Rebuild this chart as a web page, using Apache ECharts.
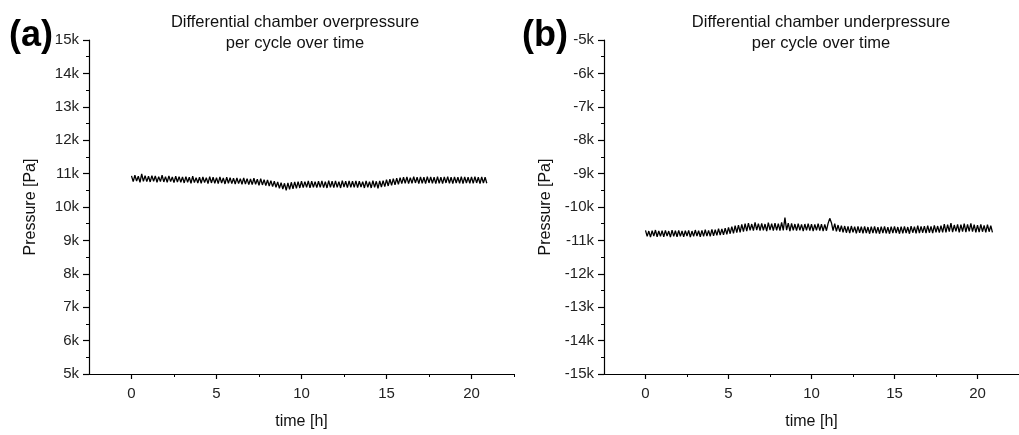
<!DOCTYPE html>
<html>
<head>
<meta charset="utf-8">
<script src="https://cdn.jsdelivr.net/npm/echarts@6/dist/echarts.min.js"></script>
<style>
html,body{margin:0;padding:0;background:#fff;}
#chart{width:1019px;height:435px;}
</style>
</head>
<body>
<div id="chart"></div>
<script>
// time [h]
var timeHours = [
0.0,0.1,0.2,0.3,0.4,0.5,0.6,0.7,0.8,0.9,
1.0,1.1,1.2,1.3,1.4,1.5,1.6,1.7,1.8,1.9,
2.0,2.1,2.2,2.3,2.4,2.5,2.6,2.7,2.8,2.9,
3.0,3.1,3.2,3.3,3.4,3.5,3.6,3.7,3.8,3.9,
4.0,4.1,4.2,4.3,4.4,4.5,4.6,4.7,4.8,4.9,
5.0,5.1,5.2,5.3,5.4,5.5,5.6,5.7,5.8,5.9,
6.0,6.1,6.2,6.3,6.4,6.5,6.6,6.7,6.8,6.9,
7.0,7.1,7.2,7.3,7.4,7.5,7.6,7.7,7.8,7.9,
8.0,8.1,8.2,8.3,8.4,8.5,8.6,8.7,8.8,8.9,
9.0,9.1,9.2,9.3,9.4,9.5,9.6,9.7,9.8,9.9,
10.0,10.1,10.2,10.3,10.4,10.5,10.6,10.7,10.8,10.9,
11.0,11.1,11.2,11.3,11.4,11.5,11.6,11.7,11.8,11.9,
12.0,12.1,12.2,12.3,12.4,12.5,12.6,12.7,12.8,12.9,
13.0,13.1,13.2,13.3,13.4,13.5,13.6,13.7,13.8,13.9,
14.0,14.1,14.2,14.3,14.4,14.5,14.6,14.7,14.8,14.9,
15.0,15.1,15.2,15.3,15.4,15.5,15.6,15.7,15.8,15.9,
16.0,16.1,16.2,16.3,16.4,16.5,16.6,16.7,16.8,16.9,
17.0,17.1,17.2,17.3,17.4,17.5,17.6,17.7,17.8,17.9,
18.0,18.1,18.2,18.3,18.4,18.5,18.6,18.7,18.8,18.9,
19.0,19.1,19.2,19.3,19.4,19.5,19.6,19.7,19.8,19.9,
20.0,20.1,20.2,20.3,20.4,20.5,20.6,20.7,20.8,20.9
];

// (a) overpressure [Pa]
var overpressure = [
10930,10760,10950,10780,10920,10740,10990,10770,10940,10760,
10920,10750,10940,10770,10930,10740,10910,10760,10950,10750,
10910,10740,10930,10760,10900,10730,10920,10750,10910,10740,
10900,10720,10910,10740,10890,10710,10920,10730,10880,10720,
10890,10710,10900,10730,10880,10700,10910,10720,10890,10710,
10880,10700,10900,10720,10870,10690,10890,10710,10880,10700,
10860,10690,10870,10700,10850,10680,10870,10690,10850,10670,
10840,10670,10860,10680,10830,10650,10850,10660,10820,10640,
10810,10630,10790,10610,10770,10590,10750,10560,10730,10540,
10710,10500,10720,10530,10740,10540,10750,10560,10760,10570,
10770,10580,10760,10590,10780,10570,10770,10590,10760,10580,
10770,10590,10780,10580,10760,10570,10790,10590,10770,10580,
10780,10590,10760,10570,10790,10600,10770,10580,10780,10590,
10770,10590,10780,10580,10770,10600,10760,10570,10780,10590,
10760,10570,10790,10590,10770,10560,10780,10600,10790,10610,
10820,10630,10830,10650,10850,10660,10860,10680,10880,10700,
10890,10710,10900,10700,10880,10710,10910,10720,10890,10700,
10900,10710,10890,10700,10910,10720,10900,10710,10890,10700,
10910,10710,10890,10700,10900,10720,10910,10710,10890,10700,
10900,10720,10890,10710,10910,10700,10900,10720,10890,10710,
10900,10710,10910,10720,10890,10700,10900,10720,10890,10710
];

// (b) underpressure [Pa]
var underpressure = [
-10700,-10880,-10720,-10900,-10710,-10870,-10690,-10890,-10720,-10880,
-10710,-10890,-10700,-10870,-10720,-10900,-10690,-10880,-10710,-10890,
-10700,-10880,-10720,-10890,-10710,-10870,-10700,-10900,-10720,-10880,
-10690,-10870,-10710,-10890,-10700,-10880,-10680,-10870,-10700,-10880,
-10670,-10860,-10680,-10850,-10650,-10840,-10660,-10830,-10630,-10820,
-10610,-10800,-10590,-10790,-10560,-10770,-10540,-10760,-10520,-10740,
-10500,-10720,-10480,-10700,-10510,-10710,-10460,-10690,-10500,-10710,
-10490,-10700,-10510,-10720,-10470,-10690,-10500,-10710,-10480,-10700,
-10500,-10710,-10460,-10700,-10320,-10690,-10480,-10720,-10490,-10700,
-10510,-10710,-10500,-10700,-10520,-10720,-10510,-10700,-10500,-10710,
-10510,-10720,-10520,-10700,-10500,-10710,-10510,-10720,-10520,-10710,
-10490,-10340,-10470,-10710,-10500,-10730,-10540,-10740,-10560,-10760,
-10570,-10770,-10580,-10780,-10570,-10760,-10590,-10790,-10580,-10770,
-10590,-10790,-10580,-10780,-10600,-10800,-10590,-10780,-10580,-10790,
-10600,-10800,-10590,-10780,-10580,-10790,-10600,-10800,-10590,-10780,
-10580,-10780,-10600,-10800,-10590,-10790,-10580,-10780,-10600,-10800,
-10570,-10770,-10590,-10790,-10560,-10780,-10580,-10770,-10570,-10780,
-10560,-10770,-10580,-10780,-10550,-10760,-10570,-10770,-10560,-10760,
-10510,-10760,-10530,-10740,-10480,-10750,-10540,-10730,-10520,-10760,
-10530,-10740,-10500,-10750,-10520,-10730,-10490,-10740,-10530,-10760,
-10540,-10750,-10520,-10740,-10550,-10760,-10530,-10740,-10560,-10760
];

var xMajorTicks = [0, 5, 10, 15, 20];
var xMinorTicks = [2.5, 7.5, 12.5, 17.5, 22.5];
var titleA = 'Differential chamber overpressure\nper cycle over time';
var titleB = 'Differential chamber underpressure\nper cycle over time';
var panelA = '(a)';
var panelB = '(b)';
var xName = 'time [h]';
var yName = 'Pressure [Pa]';

function pairs(xs, ys) {
  var out = [];
  for (var i = 0; i < ys.length; i++) out.push([xs[i], ys[i]]);
  return out;
}

var FONT = 'Liberation Sans, Arial, sans-serif';
var black = '#000';

function xMain(gridIndex) {
  return {
    type: 'value', gridIndex: gridIndex, min: -2.5, max: 22.5,
    name: xName, nameLocation: 'middle', nameGap: 40,
    nameTextStyle: {fontFamily: FONT, fontSize: 16, color: '#111'},
    axisLine: {show: true, onZero: false, lineStyle: {color: black, width: 1.2}},
    axisTick: {show: true, inside: false, length: 5, lineStyle: {color: black, width: 1.2}, customValues: xMajorTicks},
    axisLabel: {fontFamily: FONT, fontSize: 15, color: '#222', margin: 12, customValues: xMajorTicks},
    splitLine: {show: false}
  };
}
function xMinor(gridIndex) {
  return {
    type: 'value', gridIndex: gridIndex, min: -2.5, max: 22.5, position: 'bottom', offset: 0,
    axisLine: {show: false, onZero: false},
    axisTick: {show: true, inside: false, length: 3, lineStyle: {color: black, width: 1}, customValues: xMinorTicks},
    axisLabel: {show: false},
    splitLine: {show: false}
  };
}
function yMain(gridIndex, min, max) {
  return {
    type: 'value', gridIndex: gridIndex, min: min, max: max, interval: 1000,
    name: yName, nameLocation: 'middle', nameGap: 50, nameRotate: 90,
    nameTextStyle: {fontFamily: FONT, fontSize: 16, color: '#111'},
    axisLine: {show: true, onZero: false, lineStyle: {color: black, width: 1.2}},
    axisTick: {show: true, inside: false, length: 6, lineStyle: {color: black, width: 1.2}},
    minorTick: {show: true, splitNumber: 2, length: 3, lineStyle: {color: black, width: 1}},
    axisLabel: {fontFamily: FONT, fontSize: 15, color: '#222', margin: 10,
      formatter: function (v) { return (v / 1000) + 'k'; }},
    splitLine: {show: false}
  };
}

var chart = echarts.init(document.getElementById('chart'), null, {renderer: 'canvas'});
chart.setOption({
  backgroundColor: '#fff',
  animation: false,
  title: [
    {text: titleA, left: 290, top: 7, textAlign: 'center',
      textStyle: {fontFamily: FONT, fontSize: 16.5, fontWeight: 'normal', color: '#111', lineHeight: 21}},
    {text: titleB, left: 816, top: 7, textAlign: 'center',
      textStyle: {fontFamily: FONT, fontSize: 16.5, fontWeight: 'normal', color: '#111', lineHeight: 21}}
  ],
  graphic: [
    {type: 'text', left: 9, top: 18, style: {text: panelA, font: 'bold 36px ' + FONT, fill: '#000'}},
    {type: 'text', left: 522, top: 18, style: {text: panelB, font: 'bold 36px ' + FONT, fill: '#000'}}
  ],
  grid: [
    {left: 89, top: 40, width: 425, height: 342},
    {left: 604, top: 40, width: 424, height: 342}
  ],
  xAxis: [xMain(0), xMinor(0), xMain(1), xMinor(1)],
  yAxis: [yMain(0, 5000, 15000), yMain(1, -15000, -5000)],
  series: [
    {type: 'line', xAxisIndex: 0, yAxisIndex: 0, data: pairs(timeHours, overpressure),
      showSymbol: false, lineStyle: {color: black, width: 1.3}},
    {type: 'line', xAxisIndex: 2, yAxisIndex: 1, data: pairs(timeHours, underpressure),
      showSymbol: false, lineStyle: {color: black, width: 1.3}}
  ]
});
</script>
</body>
</html>
